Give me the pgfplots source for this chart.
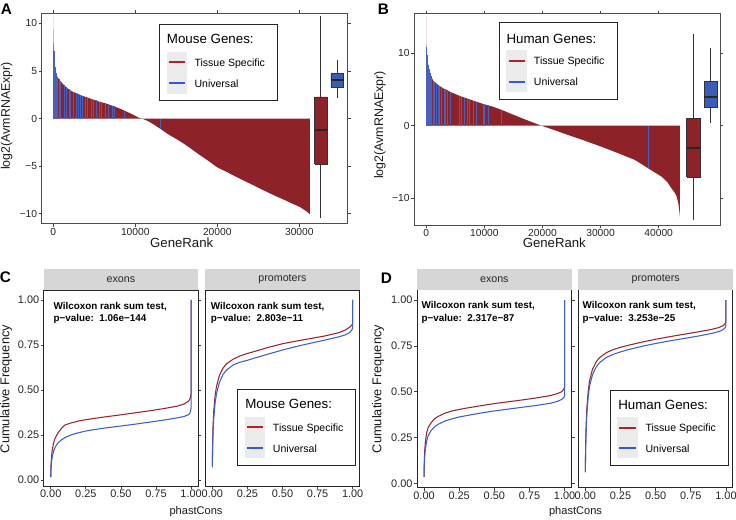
\documentclass[border=0pt]{standalone}
\usepackage{fontspec}
\setmainfont{Liberation Sans}
\usepackage{pgfplots}
\pgfplotsset{compat=1.18}
\definecolor{tsred}{RGB}{141,34,40}
\definecolor{unblue}{RGB}{58,93,183}
\definecolor{combblue}{RGB}{70,98,190}
\definecolor{lnred}{RGB}{158,35,45}
\definecolor{lnblue}{RGB}{60,95,200}
\definecolor{lgred}{RGB}{178,34,40}
\definecolor{lgblue}{RGB}{50,90,210}
\definecolor{stripgrey}{RGB}{214,214,214}
\definecolor{keygrey}{RGB}{235,235,235}
\newcommand{\fs}[1]{\fontsize{#1}{#1}\selectfont}
\pgfplotsset{
  base/.style={scale only axis, anchor=south west, tick align=outside,
    scaled ticks=false,
    major tick length=2.2pt, tick style={black!75, line width=0.5pt},
    axis line style={black!70, line width=0.75pt},
    tick label style={font=\fs{7.7}, text=black!85},
    xticklabel style={inner sep=0.5pt}, yticklabel style={inner sep=1pt}},
  cdf/.style={base, xmin=-0.05, xmax=1.05,
    tick label style={font=\fs{8.2}, text=black!85},
    xtick={0,0.25,0.5,0.75,1}, xticklabels={0.00,0.25,0.50,0.75,1.00},
    axis line style={black!85, line width=0.75pt}},
  boxst/.style={draw=black!80, line width=0.6pt},
  medst/.style={draw=black!85, line width=1.5pt},
  whst/.style={draw=black!80, line width=0.6pt}
}
\begin{document}
\begin{tikzpicture}
\path[use as bounding box] (0,0) rectangle (552pt,389.25pt);
% ---------------- Panel A
\begin{axis}[base, at={(31.275pt,221.25pt)}, width=229.5pt, height=158pt,
  xmin=-1415, xmax=35900, ymin=-11.08, ymax=11.05,
  xtick={0,10000,20000,30000}, xticklabels={0,10000,20000,30000},
  ytick={-10,-5,0,5,10}, yticklabels={−10,−5,0,5,10}]
\addplot[fill=tsred, draw=none] coordinates {(0,10.8) (20,9.5) (50,8.0) (80,7.2) (120,6.2) (200,5.4) (300,4.9) (400,4.55) (600,4.25) (800,4.0) (1200,3.6) (1600,3.25) (2000,3.0) (2400,2.8) (3000,2.6) (3500,2.4) (4000,2.25) (4500,2.1) (5000,1.95) (5500,1.8) (6000,1.68) (6500,1.55) (7000,1.4) (7500,1.25) (8000,1.08) (8500,0.9) (9000,0.7) (9500,0.5) (10000,0.28) (10400,0.1) (10800,0) (11500,-0.25) (12200,-0.6) (13000,-1.05) (14000,-1.65) (15000,-2.15) (15850,-2.6) (17000,-3.3) (17890,-3.85) (19000,-4.5) (19930,-5.1) (21000,-5.55) (21960,-5.97) (23000,-6.42) (23990,-6.84) (25000,-7.27) (26020,-7.7) (27000,-8.1) (28050,-8.5) (29000,-8.88) (30080,-9.3) (30800,-9.7) (31300,-10.05)} \closedcycle;
\addplot[ycomb, draw=combblue, line width=0.4pt] coordinates {(5,7.2) (25,7.2) (45,7.2) (65,7.1) (90,6.9) (120,6.2) (160,5.8) (200,5.4) (260,5.1) (330,4.8) (411,4.54) (492,4.4) (695,4.13) (898,3.9) (1305,3.5) (1549,3.3) (1915,3.05) (2118,2.94) (2443,2.78) (2768,2.68) (3053,2.58) (3256,2.5) (3581,2.38) (3947,2.27) (4191,2.19) (4679,2.05) (4882,1.99) (5207,1.9) (5614,1.77) (5898,1.7) (6305,1.6) (6712,1.49) (7240,1.33) (7402,1.28) (8662,0.84) (13094,-1.1)};
\addplot[whst] coordinates {(32610,-10.4) (32610,-4.8)};
\addplot[whst] coordinates {(32610,2.27) (32610,10.75)};
\addplot[boxst, fill=tsred] coordinates {(31854,-4.8) (33366,-4.8) (33366,2.27) (31854,2.27) (31854,-4.8)};
\addplot[medst] coordinates {(31854,-1.23) (33366,-1.23)};
\addplot[whst] coordinates {(34630,2.2) (34630,3.26)};
\addplot[whst] coordinates {(34630,4.73) (34630,6.2)};
\addplot[boxst, fill=unblue] coordinates {(33855,3.26) (35405,3.26) (35405,4.73) (33855,4.73) (33855,3.26)};
\addplot[medst] coordinates {(33855,4.02) (35405,4.02)};
\end{axis}
% ---------------- Panel B
\begin{axis}[base, at={(310.5pt,220.5pt)}, width=229.7pt, height=158.25pt,
  xmin=-2117, xmax=50600, ymin=-13.73, ymax=15.43,
  xtick={0,10000,20000,30000,40000}, xticklabels={0,10000,20000,30000,40000},
  ytick={-10,0,10}, yticklabels={−10,0,10}]
\addplot[fill=tsred, draw=none] coordinates {(0,15.2) (15,12.5) (40,10.9) (150,9.3) (344,8.2) (631,7.2) (1205,6.2) (2066,5.6) (2927,5.16) (4300,4.6) (5797,4.1) (7200,3.7) (8667,3.3) (10000,2.95) (11537,2.6) (12900,2.2) (14407,1.7) (15780,1.25) (17500,0.7) (19800,0) (22000,-0.6) (24400,-1.29) (27000,-2.0) (30100,-2.9) (33000,-3.8) (35900,-4.74) (38200,-5.9) (40500,-7.05) (41500,-7.8) (42200,-8.66) (42800,-9.3) (43100,-9.8) (43400,-10.8) (43600,-12.1) (43650,-12.6)} \closedcycle;
\addplot[ycomb, draw=combblue, line width=0.4pt] coordinates {(5,10.9) (40,10.9) (80,10.3) (120,9.7) (160,9.25) (200,8.95) (250,8.65) (300,8.4) (350,8.2) (400,8.0) (450,7.85) (500,7.7) (560,7.45) (620,7.25) (680,7.1) (750,6.95) (820,6.8) (900,6.7) (1211,6.2) (1440,6.0) (1785,5.8) (2071,5.6) (2300,5.48) (2645,5.3) (3050,5.1) (3219,5.03) (3620,4.87) (4079,4.7) (4200,4.65) (5740,4.12) (6087,4.0) (6600,3.85) (7000,3.75) (7470,3.62) (8040,3.47) (8610,3.32) (9760,3.01) (10050,2.94) (10620,2.8) (12920,2.2) (38160,-5.88)};
\addplot[whst] coordinates {(45990,-13.1) (45990,-7.1)};
\addplot[whst] coordinates {(45990,1.05) (45990,12.64)};
\addplot[boxst, fill=tsred] coordinates {(44846,-7.1) (47134,-7.1) (47134,1.05) (44846,1.05) (44846,-7.1)};
\addplot[medst] coordinates {(44846,-3.13) (47134,-3.13)};
\addplot[whst] coordinates {(48970,0.33) (48970,2.49)};
\addplot[whst] coordinates {(48970,6.16) (48970,10.7)};
\addplot[boxst, fill=unblue] coordinates {(47852,2.49) (50088,2.49) (50088,6.16) (47852,6.16) (47852,2.49)};
\addplot[medst] coordinates {(47852,4.0) (50088,4.0)};
\end{axis}
% ---------------- Panel C exons
\begin{axis}[cdf, at={(32.78pt,24.53pt)}, width=115.8pt, height=147.15pt,
  ymin=-0.035, ymax=1.055,
  ytick={0,0.25,0.5,0.75,1}, yticklabels={0.00,0.25,0.50,0.75,1.00}]
\addplot[lnred, line width=0.8pt] coordinates {(0,0.02) (0.002,0.08) (0.005,0.12) (0.01,0.16) (0.02,0.205) (0.03,0.23) (0.05,0.26) (0.075,0.285) (0.1,0.305) (0.15,0.318) (0.2,0.328) (0.25,0.335) (0.3,0.341) (0.4,0.352) (0.5,0.362) (0.6,0.373) (0.7,0.384) (0.8,0.396) (0.9,0.41) (0.95,0.422) (0.98,0.437) (0.99,0.447) (0.997,0.465) (1.0,0.48) (1.0,1.0)};
\addplot[lnblue, line width=0.8pt] coordinates {(0,0.015) (0.002,0.06) (0.005,0.095) (0.01,0.125) (0.02,0.16) (0.03,0.18) (0.05,0.205) (0.075,0.222) (0.1,0.235) (0.15,0.252) (0.2,0.263) (0.25,0.272) (0.3,0.279) (0.4,0.29) (0.5,0.3) (0.6,0.31) (0.7,0.321) (0.8,0.332) (0.9,0.345) (0.95,0.353) (0.98,0.362) (0.99,0.37) (0.997,0.385) (1.0,0.40) (1.0,1.0)};
\end{axis}
% ---------------- Panel C promoters
\begin{axis}[cdf, at={(153.98pt,24.53pt)}, width=115.8pt, height=147.15pt,
  ymin=-0.035, ymax=1.055, ytick=\empty]
\addplot[lnred, line width=0.8pt] coordinates {(0,0.08) (0.002,0.2) (0.005,0.3) (0.01,0.38) (0.02,0.47) (0.03,0.52) (0.05,0.58) (0.075,0.62) (0.1,0.645) (0.15,0.672) (0.2,0.69) (0.25,0.703) (0.3,0.714) (0.4,0.737) (0.5,0.757) (0.6,0.772) (0.7,0.786) (0.8,0.8) (0.9,0.818) (0.95,0.834) (0.98,0.85) (0.995,0.862) (1.0,0.87) (1.0,1.0)};
\addplot[lnblue, line width=0.8pt] coordinates {(0,0.07) (0.002,0.17) (0.005,0.26) (0.01,0.34) (0.02,0.43) (0.03,0.48) (0.05,0.54) (0.075,0.585) (0.1,0.61) (0.15,0.64) (0.2,0.655) (0.25,0.665) (0.3,0.677) (0.4,0.7) (0.5,0.722) (0.6,0.742) (0.7,0.76) (0.8,0.777) (0.9,0.795) (0.95,0.807) (0.98,0.82) (0.995,0.835) (1.0,0.845) (1.0,1.0)};
\end{axis}
% ---------------- Panel D exons
\begin{axis}[cdf, at={(312.75pt,23.33pt)}, width=116pt, height=148.6pt,
  ymin=-0.025, ymax=1.056,
  ytick={0,0.25,0.5,0.75,1}, yticklabels={0.00,0.25,0.50,0.75,1.00}]
\addplot[lnred, line width=0.8pt] coordinates {(0,0.035) (0.002,0.12) (0.005,0.18) (0.01,0.23) (0.02,0.28) (0.03,0.305) (0.05,0.33) (0.075,0.352) (0.1,0.365) (0.15,0.383) (0.2,0.395) (0.25,0.403) (0.3,0.41) (0.4,0.423) (0.5,0.435) (0.6,0.445) (0.7,0.455) (0.8,0.466) (0.9,0.479) (0.95,0.49) (0.98,0.5) (0.995,0.515) (1.0,0.525) (1.0,1.0)};
\addplot[lnblue, line width=0.8pt] coordinates {(0,0.035) (0.002,0.1) (0.005,0.15) (0.01,0.19) (0.02,0.235) (0.03,0.26) (0.05,0.288) (0.075,0.308) (0.1,0.322) (0.15,0.34) (0.2,0.352) (0.25,0.362) (0.3,0.369) (0.4,0.383) (0.5,0.395) (0.6,0.405) (0.7,0.415) (0.8,0.425) (0.9,0.437) (0.95,0.447) (0.98,0.458) (0.995,0.47) (1.0,0.48) (1.0,1.0)};
\end{axis}
% ---------------- Panel D promoters
\begin{axis}[cdf, at={(433.73pt,23.33pt)}, width=116pt, height=148.6pt,
  ymin=-0.025, ymax=1.056, ytick=\empty]
\addplot[lnred, line width=0.8pt] coordinates {(0,0.065) (0.002,0.2) (0.005,0.3) (0.01,0.4) (0.02,0.5) (0.03,0.56) (0.05,0.62) (0.075,0.66) (0.1,0.685) (0.15,0.713) (0.2,0.73) (0.25,0.742) (0.3,0.752) (0.4,0.77) (0.5,0.786) (0.6,0.8) (0.7,0.813) (0.8,0.826) (0.9,0.84) (0.95,0.85) (0.98,0.86) (0.995,0.872) (1.0,0.885) (1.0,1.0)};
\addplot[lnblue, line width=0.8pt] coordinates {(0,0.06) (0.002,0.18) (0.005,0.27) (0.01,0.37) (0.02,0.47) (0.03,0.53) (0.05,0.59) (0.075,0.632) (0.1,0.658) (0.15,0.687) (0.2,0.704) (0.25,0.717) (0.3,0.728) (0.4,0.747) (0.5,0.763) (0.6,0.777) (0.7,0.79) (0.8,0.803) (0.9,0.818) (0.95,0.828) (0.98,0.838) (0.995,0.85) (1.0,0.865) (1.0,1.0)};
\end{axis}
% ---------------- annotations in pixel coordinates
\begin{scope}[x=0.75pt, y=-0.75pt, shift={(0pt,389.25pt)}]
\node[font=\fs{11.5}\bfseries] at (6.5,9) {A};
\node[font=\fs{11.5}\bfseries] at (383.5,9) {B};
\node[font=\fs{11.5}\bfseries] at (5.5,277) {C};
\node[font=\fs{11.5}\bfseries] at (386.5,278) {D};
\node[font=\fs{9.9}, text=black!90, inner sep=0pt] at (181.7,242.3) {GeneRank};
\node[font=\fs{9.9}, text=black!90, inner sep=0pt] at (554.3,242.3) {GeneRank};
\node[font=\fs{9.3}, text=black!90, rotate=90] at (6.7,116) {log2(AvmRNAExpr)};
\node[font=\fs{9.3}, text=black!90, rotate=90] at (380,125) {log2(AvmRNAExpr)};
\node[font=\fs{9.6}, text=black!90, rotate=90] at (6,389) {Cumulative Frequency};
\node[font=\fs{9.6}, text=black!90, rotate=90] at (378,389) {Cumulative Frequency};
\node[font=\fs{8.3}, text=black!90] at (196,512) {phastCons};
\node[font=\fs{8.3}, text=black!90] at (575.5,512) {phastCons};
\fill[stripgrey] (43.7,269) rectangle (198.1,289.9);
\fill[stripgrey] (205.3,269) rectangle (359.7,289.9);
\fill[stripgrey] (417,269) rectangle (571.7,289.9);
\fill[stripgrey] (578.3,269) rectangle (733,289.9);
\node[font=\fs{8}, text=black!85] at (120.9,279.5) {exons};
\node[font=\fs{8}, text=black!85] at (282.5,279.5) {promoters};
\node[font=\fs{8}, text=black!85] at (494.3,279.5) {exons};
\node[font=\fs{8}, text=black!85] at (655.7,279.5) {promoters};
\begin{scope}[every node/.style={font=\fs{7.4}\bfseries, anchor=base west, inner sep=0pt}]
\node at (53.3,309.2) {Wilcoxon rank sum test,};
\node at (53.3,321.8) {p−value:\ \ 1.06e−144};
\node at (210.7,309.2) {Wilcoxon rank sum test,};
\node at (210.7,321.8) {p−value:\ \ 2.803e−11};
\node at (421.3,308.8) {Wilcoxon rank sum test,};
\node at (421.3,321.6) {p−value:\ \ 2.317e−87};
\node at (582.3,308.8) {Wilcoxon rank sum test,};
\node at (582.3,321.6) {p−value:\ \ 3.253e−25};
\end{scope}
\begin{scope}[every node/.style={anchor=base west, inner sep=0pt}]
\draw[black!85, line width=0.6pt, fill=white] (159.3,24.3) rectangle (277.3,100);
\node[font=\fs{10}] at (166.7,43.5) {Mouse Genes:};
\fill[keygrey] (166.7,51.7) rectangle (186.7,94.3);
\draw[lgred, line width=1.5pt] (168.7,62) -- (184.7,62);
\draw[lgblue, line width=1.5pt] (168.7,83) -- (184.7,83);
\node[font=\fs{7.9}] at (194.3,66.1) {Tissue Specific};
\node[font=\fs{7.9}] at (194.3,87.1) {Universal};
\draw[black!85, line width=0.6pt, fill=white] (499.7,22.7) rectangle (617.3,99);
\node[font=\fs{10}] at (506.3,43.1) {Human Genes:};
\fill[keygrey] (506.3,50) rectangle (527,91.7);
\draw[lgred, line width=1.5pt] (508.5,61) -- (524.7,61);
\draw[lgblue, line width=1.5pt] (508.5,82) -- (524.7,82);
\node[font=\fs{7.9}] at (533.7,64.8) {Tissue Specific};
\node[font=\fs{7.9}] at (533.7,85.5) {Universal};
\draw[black!85, line width=0.6pt, fill=white] (237.3,389.3) rectangle (355,465.7);
\node[font=\fs{10}] at (245,408.8) {Mouse Genes:};
\fill[keygrey] (245,417.3) rectangle (265,458.3);
\draw[lgred, line width=1.5pt] (247,427) -- (263,427);
\draw[lgblue, line width=1.5pt] (247,448) -- (263,448);
\node[font=\fs{7.9}] at (272.7,431.1) {Tissue Specific};
\node[font=\fs{7.9}] at (272.7,452.1) {Universal};
\draw[black!85, line width=0.6pt, fill=white] (610.7,390) rectangle (728.7,465.7);
\node[font=\fs{10}] at (618,409.1) {Human Genes:};
\fill[keygrey] (617.3,416.7) rectangle (638,458.3);
\draw[lgred, line width=1.5pt] (619.3,428) -- (636,428);
\draw[lgblue, line width=1.5pt] (619.3,448) -- (636,448);
\node[font=\fs{7.9}] at (645.3,431.5) {Tissue Specific};
\node[font=\fs{7.9}] at (645.3,452.1) {Universal};
\end{scope}
\end{scope}
\end{tikzpicture}
\end{document}
